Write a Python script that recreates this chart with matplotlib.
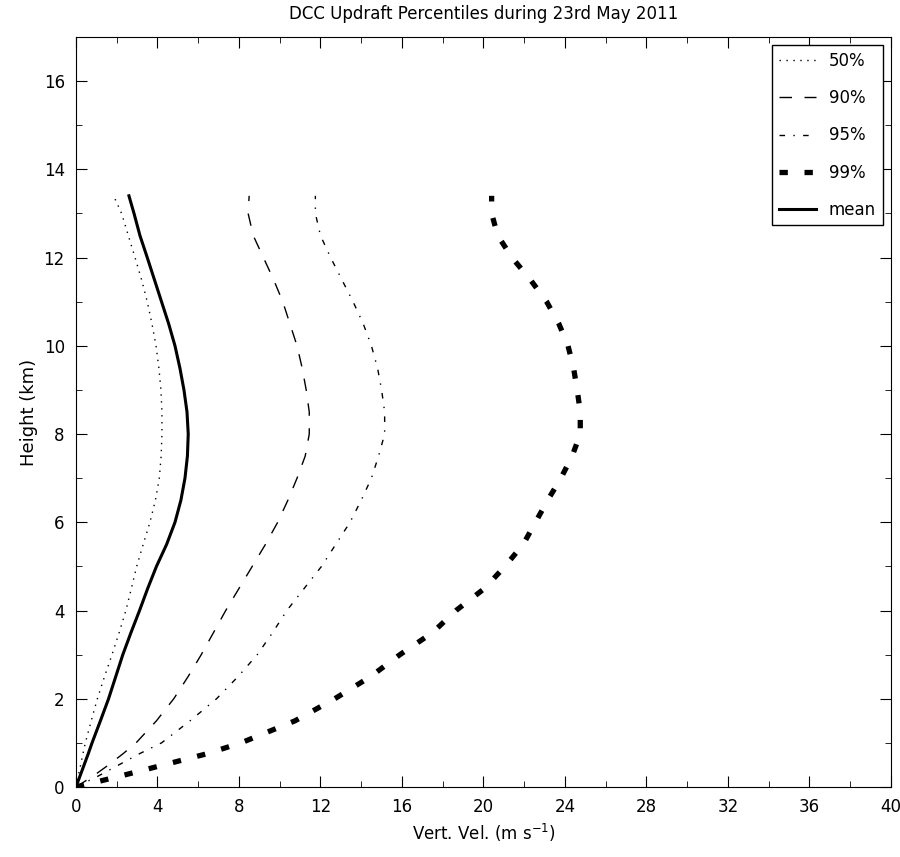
import matplotlib
matplotlib.use('Agg')
import matplotlib.pyplot as plt
from matplotlib.ticker import MultipleLocator

# heights (km) shared by all profiles
height = [0, 0.25, 0.5, 0.75, 1.0, 1.5, 2.0, 2.5, 3.0, 3.5, 4.0, 4.5, 5.0, 5.5, 6.0,
          6.5, 7.0, 7.5, 8.0, 8.5, 9.0, 9.5, 10.0, 10.5, 11.0, 11.5, 12.0, 12.5, 13.0, 13.4]

p50 = [0, 0.11, 0.23, 0.34, 0.46, 0.75, 1.05, 1.4, 1.77, 2.12, 2.45, 2.72, 2.98, 3.3, 3.63,
       3.9, 4.09, 4.18, 4.22, 4.22, 4.17, 4.07, 3.93, 3.73, 3.5, 3.22, 2.9, 2.57, 2.24, 1.85]
p90 = [0, 0.85, 1.6, 2.3, 2.95, 3.95, 4.8, 5.5, 6.15, 6.75, 7.35, 8.0, 8.65, 9.3, 9.9,
       10.4, 10.85, 11.25, 11.45, 11.45, 11.3, 11.1, 10.85, 10.5, 10.15, 9.7, 9.2, 8.7, 8.45, 8.5]
p95 = [0, 1.1, 2.1, 3.1, 4.2, 5.6, 6.9, 7.95, 8.9, 9.65, 10.35, 11.2, 12.05, 12.75, 13.45,
       14.0, 14.5, 14.85, 15.15, 15.15, 15.0, 14.8, 14.5, 14.1, 13.6, 13.05, 12.5, 12.0, 11.75, 11.75]
p99 = [0, 2.2, 4.3, 6.4, 8.1, 10.75, 12.7, 14.45, 15.9, 17.5, 18.65, 20.05, 21.05, 21.95, 22.55,
       23.15, 23.8, 24.35, 24.75, 24.75, 24.6, 24.42, 24.15, 23.7, 23.1, 22.3, 21.4, 20.7, 20.4, 20.4]
mean = [0, 0.2, 0.4, 0.6, 0.79, 1.2, 1.6, 1.95, 2.3, 2.7, 3.12, 3.52, 3.95, 4.45, 4.86,
        5.15, 5.35, 5.47, 5.51, 5.45, 5.3, 5.1, 4.86, 4.55, 4.2, 3.85, 3.5, 3.14, 2.85, 2.6]

plt.rcParams['lines.scale_dashes'] = False
plt.rcParams['xtick.direction'] = 'in'
plt.rcParams['ytick.direction'] = 'in'

fig = plt.figure(figsize=(9, 8.57), dpi=100)
ax = fig.add_axes([0.0844, 0.0817, 0.9056, 0.8751])

ax.plot(p50, height, color='k', linestyle=(0, (1, 4)), linewidth=1, label='50%')
ax.plot(p90, height, color='k', linestyle=(0, (9, 9)), linewidth=1, label='90%')
ax.plot(p95, height, color='k', linestyle=(0, (4, 6, 1, 6)), linewidth=1, label='95%')
ax.plot(p99, height, color='k', linestyle=(0, (6, 12)), linewidth=3.8, label='99%')
ax.plot(mean, height, color='k', linestyle='-', linewidth=2.2, label='mean')

ax.set_xlim(0, 40)
ax.set_ylim(0, 17)
ax.xaxis.set_major_locator(MultipleLocator(4))
ax.xaxis.set_minor_locator(MultipleLocator(2))
ax.yaxis.set_major_locator(MultipleLocator(2))
ax.yaxis.set_minor_locator(MultipleLocator(1))
ax.tick_params(which='both', top=True, right=True, labelsize=12, pad=8)
ax.tick_params(which='major', length=8)
ax.tick_params(which='minor', length=4)

ax.set_title('DCC Updraft Percentiles during 23rd May 2011', fontsize=12, pad=13)
ax.set_xlabel('Vert. Vel. (m s$^{-1}$)', fontsize=12)
ax.set_ylabel('Height (km)', fontsize=13)

leg = ax.legend(loc='upper right', fontsize=12, fancybox=False, framealpha=1,
                edgecolor='k', handlelength=2.2, borderaxespad=0.5, labelspacing=1.15)
leg.get_frame().set_linewidth(1)

fig.savefig('out.png', dpi=100)
